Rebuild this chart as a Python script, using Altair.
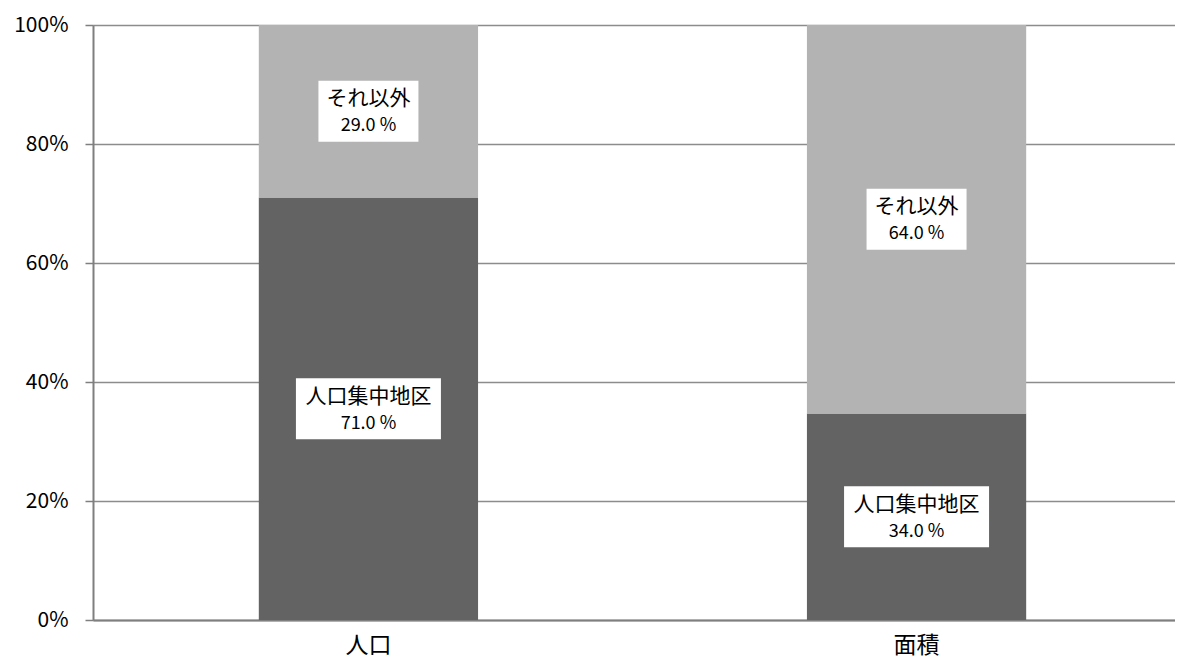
import altair as alt
import pandas as pd

categories = ["人口", "人口", "面積", "面積"]
series = ["人口集中地区", "それ以外", "人口集中地区", "それ以外"]
values = [71.0, 29.0, 34.0, 64.0]
order = [0, 1, 0, 1]

df = pd.DataFrame({"cat": categories, "series": series, "value": values, "ord": order})

FONT = "Noto Sans CJK JP"
W, H = 1082, 595
HALF = 30.5 / H  # half box height in normalized units

xscale = alt.Scale(domain=["人口", "面積"], paddingInner=0.6, paddingOuter=0.287, align=0.527)
yscale = alt.Scale(domain=[0, 1])

xenc = alt.X("cat:N", title=None, scale=xscale,
             axis=alt.Axis(labelAngle=0, labelFontSize=23, labelFont=FONT, labelColor="black",
                           ticks=False, domain=True, domainColor="#7f7f7f", domainWidth=2,
                           labelPadding=14))

base = alt.Chart(df)

bars = base.mark_bar(stroke=None).encode(
    x=xenc,
    y=alt.Y("value:Q", stack="normalize", title=None, scale=yscale,
            axis=alt.Axis(format="%", values=[0, 0.2, 0.4, 0.6, 0.8, 1.0],
                          labelFontSize=21, labelFont=FONT, labelColor="black",
                          tickSize=8, tickColor="#7f7f7f", tickWidth=1.5, labelPadding=17,
                          domainColor="#7f7f7f", domainWidth=2,
                          gridColor="#8c8c8c", gridWidth=1.5)),
    color=alt.Color("series:N", legend=None,
                    scale=alt.Scale(domain=["人口集中地区", "それ以外"], range=["#636363", "#b3b3b3"])),
    order=alt.Order("ord:Q"),
)

lab = base.transform_stack(
    stack="value", groupby=["cat"], as_=["y0", "y1"], offset="normalize",
    sort=[alt.SortField("ord", order="ascending")]
).transform_calculate(
    mid="(datum.y0 + datum.y1) / 2",
    lo="(datum.y0 + datum.y1) / 2 - %f" % HALF,
    hi="(datum.y0 + datum.y1) / 2 + %f" % HALF,
    pct="format(datum.value, '.1f') + ' %'",
)

box1 = lab.transform_filter(alt.datum.ord == 0).mark_bar(color="white", width=145).encode(
    x=alt.X("cat:N", scale=xscale), y=alt.Y("lo:Q", scale=yscale), y2="hi:Q")
box2 = lab.transform_filter(alt.datum.ord == 1).mark_bar(color="white", width=100).encode(
    x=alt.X("cat:N", scale=xscale), y=alt.Y("lo:Q", scale=yscale), y2="hi:Q")

name = lab.mark_text(font=FONT, fontSize=21, color="black", dy=-12).encode(
    x=alt.X("cat:N", scale=xscale), y=alt.Y("mid:Q", scale=yscale), text="series:N")
pct = lab.mark_text(font=FONT, fontSize=18, color="black", dy=15).encode(
    x=alt.X("cat:N", scale=xscale), y=alt.Y("mid:Q", scale=yscale), text="pct:N")

chart = alt.layer(bars, box1, box2, name, pct).properties(
    width=W, height=H,
    padding={"left": 85, "top": 17, "right": 0, "bottom": 41},
    autosize="none",
).configure_view(stroke=None).configure(background="white")

chart.save("out.html", embed_options={"renderer": "svg", "actions": False})
